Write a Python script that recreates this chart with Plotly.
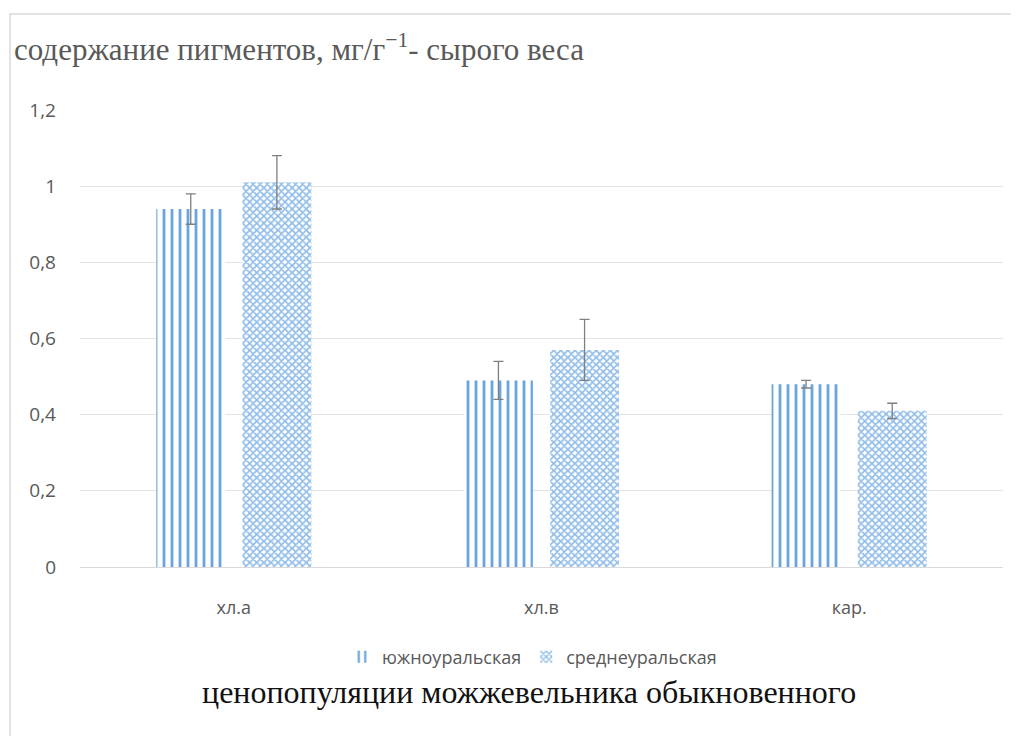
import plotly.graph_objects as go

categories = ["хл.а", "хл.в", "кар."]
series_names = ["южноуральская", "среднеуральская"]
south_values = [0.94, 0.49, 0.48]
south_errors = [0.04, 0.05, 0.01]
middle_values = [1.01, 0.57, 0.41]
middle_errors = [0.07, 0.08, 0.02]
y_ticks = [0, 0.2, 0.4, 0.6, 0.8, 1.0, 1.2]
y_tick_labels = ["0", "0,2", "0,4", "0,6", "0,8", "1", "1,2"]

BLUE = "#6AA6DC"
LIGHT = "#8FBCE8"
GRAY_TXT = "#595959"
ERR = "#7F7F7F"
SANS = "Open Sans, Liberation Sans, sans-serif"
SERIF = "Liberation Serif, serif"

fig = go.Figure()
fig.add_trace(go.Bar(
    x=categories, y=south_values, name=series_names[0],
    marker=dict(color="white", line=dict(width=0),
                pattern=dict(shape="|", fgcolor=BLUE, bgcolor="white",
                             size=8, solidity=0.35, fillmode="replace")),
    error_y=dict(type="data", array=south_errors, color=ERR, thickness=1.3, width=5),
))
fig.add_trace(go.Bar(
    x=categories, y=middle_values, name=series_names[1],
    marker=dict(color="white", line=dict(width=0),
                pattern=dict(shape="x", fgcolor=LIGHT, bgcolor="white",
                             size=5, solidity=0.55, fillmode="replace")),
    error_y=dict(type="data", array=middle_errors, color=ERR, thickness=1.3, width=5),
))

OFF = 8  # page body margin
W = 1019 - OFF
H = 736 - OFF
# target pixel positions (in screenshot coordinates)
left_px, right_px, top_px, bottom_px = 80, 1003, 110, 567
ml = left_px - OFF
mr = W - (right_px - OFF)
mt = top_px - OFF
mb = H - (bottom_px - OFF)
pw = W - ml - mr
ph = H - mt - mb

def px_x(p):
    return (p - OFF - ml) / pw

def px_y(p):
    return (H - mb - (p - OFF)) / ph

fig.update_layout(
    width=W, height=H,
    margin=dict(l=ml, r=mr, t=mt, b=mb),
    paper_bgcolor="white", plot_bgcolor="white",
    barmode="group", bargap=0.44, bargroupgap=0.2,
    showlegend=True,
    legend=dict(orientation="h", x=px_x(532), xanchor="center", y=px_y(657), yanchor="middle",
                font=dict(family=SANS, size=18, color=GRAY_TXT),
                itemwidth=30, traceorder="normal"),
    font=dict(family=SANS, color=GRAY_TXT),
    xaxis=dict(showgrid=False, showline=True, linecolor="#D9D9D9", linewidth=1,
               ticks="", tickfont=dict(size=18, color=GRAY_TXT), ticklabelstandoff=24),
    yaxis=dict(range=[0, 1.2], tickvals=y_ticks, ticktext=y_tick_labels,
               showgrid=True, gridcolor="#E3E3E3", gridwidth=1, zeroline=False,
               showline=False, ticks="", tickfont=dict(size=19, color=GRAY_TXT),
               ticklabelstandoff=23),
    annotations=[
        dict(text="содержание пигментов, мг/г<sup>−1</sup>- сырого веса",
             xref="paper", yref="paper", x=px_x(12), y=px_y(47),
             xanchor="left", yanchor="middle", showarrow=False,
             font=dict(family=SERIF, size=31, color=GRAY_TXT)),
        dict(text="ценопопуляции можжевельника обыкновенного",
             xref="paper", yref="paper", x=px_x(529), y=px_y(692),
             xanchor="center", yanchor="middle", showarrow=False,
             font=dict(family=SERIF, size=32, color="#111111")),
    ],
    shapes=[
        dict(type="rect", xref="paper", yref="paper",
             x0=px_x(10), x1=px_x(1040), y0=px_y(760), y1=px_y(14),
             line=dict(color="#D9D9D9", width=1.5), fillcolor="rgba(0,0,0,0)", layer="below"),
    ],
)

fig.write_html("out.html")
